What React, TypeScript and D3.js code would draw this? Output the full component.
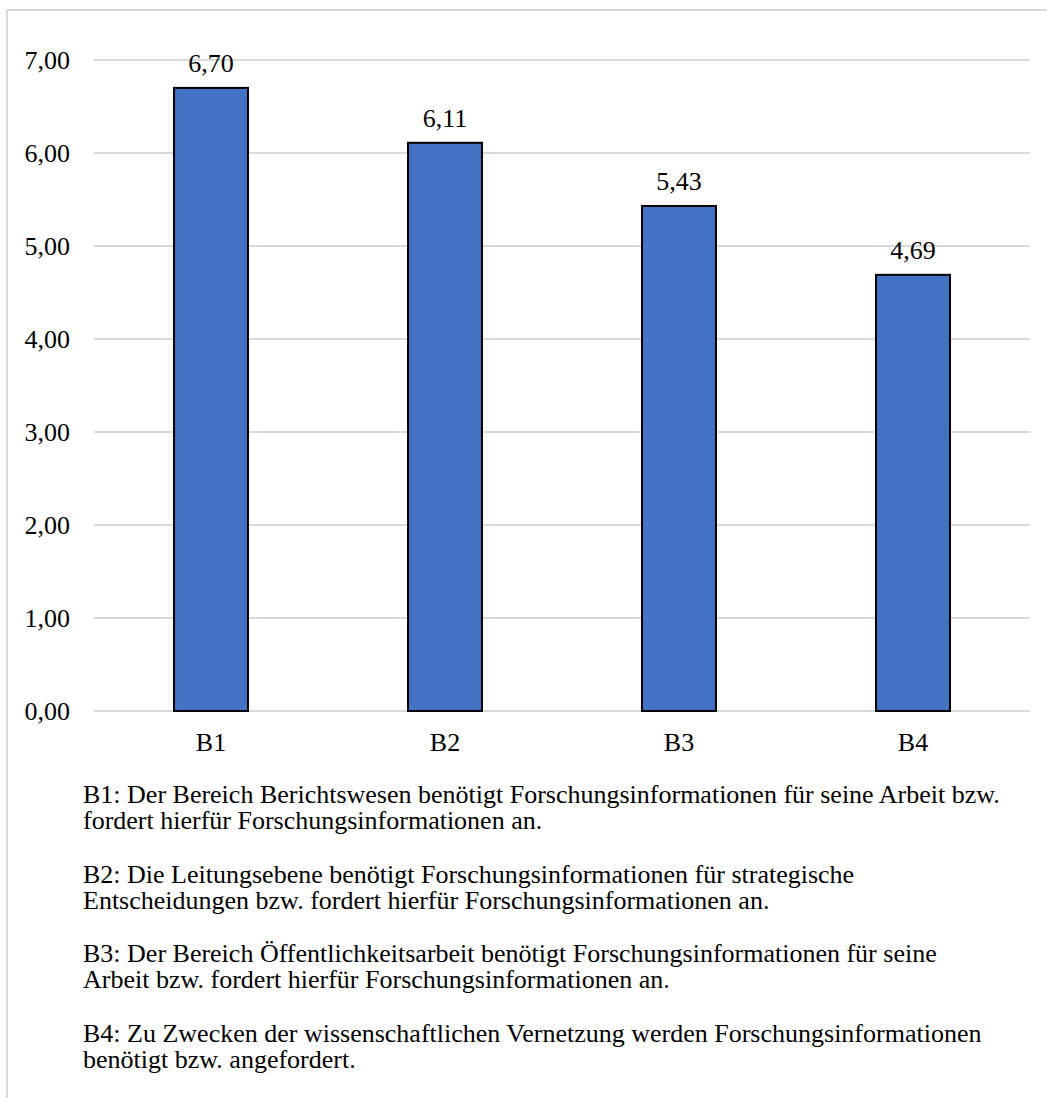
import React from "react";
import * as d3 from "d3";

// Categories and mean values
const categories = ["B1", "B2", "B3", "B4"];
const values = [6.7, 6.11, 5.43, 4.69];
const yTicks = [0, 1, 2, 3, 4, 5, 6, 7];

// Explanations printed under the chart, one entry per category (pre-broken lines)
const notes = [
  [
    "B1: Der Bereich Berichtswesen benötigt Forschungsinformationen für seine Arbeit bzw.",
    "fordert hierfür Forschungsinformationen an.",
  ],
  [
    "B2: Die Leitungsebene benötigt Forschungsinformationen für strategische",
    "Entscheidungen bzw. fordert hierfür Forschungsinformationen an.",
  ],
  [
    "B3: Der Bereich Öffentlichkeitsarbeit benötigt Forschungsinformationen für seine",
    "Arbeit bzw. fordert hierfür Forschungsinformationen an.",
  ],
  [
    "B4: Zu Zwecken der wissenschaftlichen Vernetzung werden Forschungsinformationen",
    "benötigt bzw. angefordert.",
  ],
];

const W = 1047;
const H = 1098;
const FONT = "'Liberation Serif', 'Times New Roman', serif";
const fmt = (v: number) => v.toFixed(2).replace(".", ",");

export default function App() {
  const plot = { left: 94, right: 1030, top: 60, bottom: 711 };

  const x = d3
    .scaleBand<string>()
    .domain(categories)
    .range([plot.left, plot.right])
    .paddingInner(0.684)
    .paddingOuter(0.342);

  const y = d3.scaleLinear().domain([0, 7]).range([plot.bottom, plot.top]);

  return (
    <svg
      width={W}
      height={H}
      style={{ position: "absolute", left: 0, top: 0, display: "block" }}
      fontFamily={FONT}
    >
      <rect x={0} y={0} width={W} height={H} fill="#ffffff" />
      {/* chart frame */}
      <rect x={7} y={10} width={W + 20} height={H + 20} fill="none" stroke="#d9d9d9" strokeWidth={2} />

      {/* gridlines */}
      {yTicks.map((t) => (
        <line
          key={"g" + t}
          x1={plot.left}
          x2={plot.right}
          y1={y(t)}
          y2={y(t)}
          stroke="#d9d9d9"
          strokeWidth={2}
        />
      ))}

      {/* y tick labels */}
      {yTicks.map((t) => (
        <text key={"t" + t} x={70} y={y(t) + 9} textAnchor="end" fontSize={26} fill="#000">
          {fmt(t)}
        </text>
      ))}

      {/* bars */}
      {categories.map((c, i) => (
        <rect
          key={"b" + c}
          x={x(c)!}
          y={y(values[i])}
          width={x.bandwidth()}
          height={y(0) - y(values[i])}
          fill="#4472c4"
          stroke="#000"
          strokeWidth={2}
        />
      ))}

      {/* value labels */}
      {categories.map((c, i) => (
        <text
          key={"v" + c}
          x={x(c)! + x.bandwidth() / 2}
          y={y(values[i]) - 16}
          textAnchor="middle"
          fontSize={26}
          fill="#000"
        >
          {fmt(values[i])}
        </text>
      ))}

      {/* category labels */}
      {categories.map((c) => (
        <text
          key={"c" + c}
          x={x(c)! + x.bandwidth() / 2}
          y={751}
          textAnchor="middle"
          fontSize={26}
          fill="#000"
        >
          {c}
        </text>
      ))}

      {/* notes: one text block per paragraph */}
      {notes.map((lines, i) => (
        <text key={`n${i}`} x={83} y={803 + i * 79.5} fontSize={26} fill="#000">
          {lines.map((line, j) => (
            <tspan key={j} x={83} dy={j === 0 ? 0 : 26}>
              {line}
            </tspan>
          ))}
        </text>
      ))}
    </svg>
  );
}
